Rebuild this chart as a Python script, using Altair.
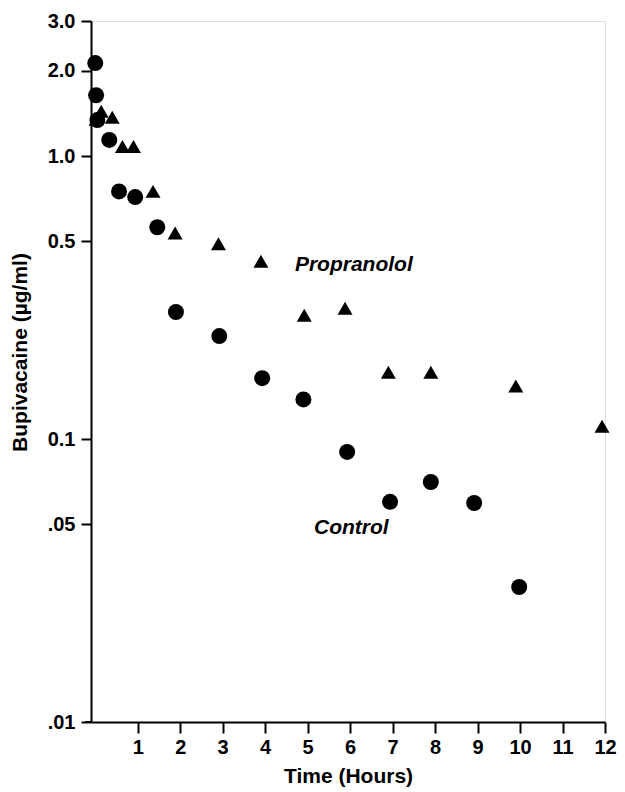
import altair as alt
import pandas as pd

# Control (circles)
control_time = [0.0, 0.02, 0.05, 0.33, 0.56, 0.94, 1.46, 1.9, 2.92, 3.93, 4.9, 5.93, 6.94, 7.9, 8.92, 9.98]
control_conc = [2.13, 1.64, 1.34, 1.14, 0.75, 0.716, 0.56, 0.281, 0.231, 0.164, 0.138, 0.090, 0.060, 0.0705, 0.0594, 0.030]

# Propranolol (triangles)
prop_time = [0.02, 0.14, 0.4, 0.64, 0.9, 1.36, 1.88, 2.9, 3.9, 4.92, 5.88, 6.9, 7.9, 9.9, 11.93]
prop_conc = [1.35, 1.44, 1.37, 1.08, 1.08, 0.75, 0.535, 0.49, 0.425, 0.274, 0.29, 0.172, 0.172, 0.154, 0.111]

groups = ["Control", "Propranolol"]
shapes = ["circle", "triangle-up"]

x_ticks = [1, 2, 3, 4, 5, 6, 7, 8, 9, 10, 11, 12]
y_tick_values = [0.01, 0.05, 0.1, 0.5, 1.0, 2.0, 3.0]
y_tick_labels = [".01", ".05", "0.1", "0.5", "1.0", "2.0", "3.0"]

ann_text = ["Propranolol", "Control"]
ann_x = [4.7, 5.15]
ann_y = [0.412, 0.0485]

df = pd.DataFrame({
    "time": control_time + prop_time,
    "conc": control_conc + prop_conc,
    "group": ["Control"] * len(control_time) + ["Propranolol"] * len(prop_time),
})
ann = pd.DataFrame({"time": ann_x, "conc": ann_y, "label": ann_text})

label_expr = " : ".join(
    f"abs(datum.value - {v}) < {v * 1e-3} ? '{t}'" for v, t in zip(y_tick_values, y_tick_labels)
) + " : ''"

FONT = "Liberation Sans"

x_enc = alt.X(
    "time:Q",
    scale=alt.Scale(domain=[-0.1, 12], nice=False, zero=False),
    axis=alt.Axis(
        title="Time (Hours)",
        values=x_ticks,
        format="d",
        grid=False,
        labelFlush=False,
        labelOverlap=False,
        domainColor="black",
        domainWidth=2,
        tickColor="black",
        tickWidth=2,
        tickSize=11,
        labelPadding=4,
        labelFont=FONT,
        labelFontSize=20,
        labelFontWeight="bold",
        labelColor="black",
        titleFont=FONT,
        titleFontSize=21,
        titleFontWeight="bold",
        titleColor="black",
        titleY=54,
        titleBaseline="middle",
    ),
)

y_enc = alt.Y(
    "conc:Q",
    scale=alt.Scale(type="log", domain=[0.01, 3.0], nice=False),
    axis=alt.Axis(
        title="Bupivacaine (µg/ml)",
        values=y_tick_values,
        labelExpr=label_expr,
        grid=False,
        labelFlush=False,
        labelOverlap=False,
        domainColor="black",
        domainWidth=2,
        tickColor="black",
        tickWidth=2,
        tickSize=10,
        labelPadding=6,
        labelFont=FONT,
        labelFontSize=20,
        labelFontWeight="bold",
        labelColor="black",
        titleFont=FONT,
        titleFontSize=21,
        titleFontWeight="bold",
        titleColor="black",
        titleAngle=270,
        titleX=-71,
        titleY=331,
        titleAlign="center",
        titleBaseline="middle",
    ),
)

points = alt.Chart(df).mark_point(filled=True, opacity=1, color="black").encode(
    x=x_enc,
    y=y_enc,
    shape=alt.Shape("group:N", scale=alt.Scale(domain=groups, range=shapes), legend=None),
    size=alt.Size("group:N", scale=alt.Scale(domain=groups, range=[256, 225]), legend=None),
)

labels = alt.Chart(ann).mark_text(
    align="left", baseline="middle", font=FONT, fontSize=21,
    fontStyle="italic", fontWeight="bold", color="black"
).encode(x="time:Q", y="conc:Q", text="label:N")

axis_ext = alt.Chart(ann).mark_rule(color="black", strokeWidth=2).encode(
    x=alt.value(-6), x2=alt.value(0), y=alt.value(701)
)

chart = alt.layer(points, labels, axis_ext).properties(
    width=514,
    height=701,
    autosize=alt.AutoSizeParams(type="none"),
    padding={"left": 83, "top": 13, "right": 12, "bottom": 69},
).configure_view(stroke=None).configure(background="white")

chart.save("out.html", embed_options={"renderer": "svg", "actions": False})
